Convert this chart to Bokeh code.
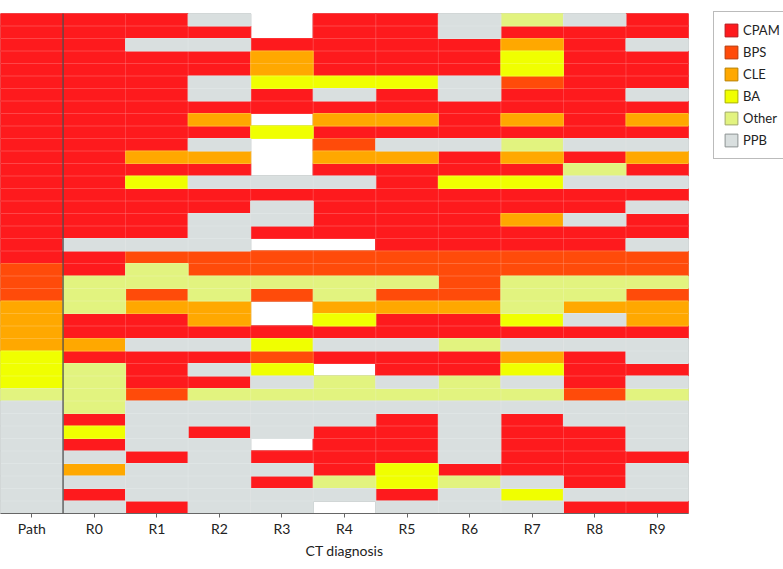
from bokeh.plotting import figure
from bokeh.models import ColumnDataSource, Range1d, Legend, LegendItem, Span, FixedTicker
from bokeh.embed import file_html
from bokeh.resources import INLINE

# ---- data ----
columns = ["Path", "R0", "R1", "R2", "R3", "R4", "R5", "R6", "R7", "R8", "R9"]
categories = ["CPAM", "BPS", "CLE", "BA", "Other", "PPB"]
codes = ["C", "B", "L", "A", "O", "P"]          # "-" = no diagnosis
cat_colors = ["#fe1a1d", "#ff4b0a", "#ffa800", "#f0ff00", "#e2f37f", "#d9dfdf"]
swatch_lines = ["#b8161b", "#b83a0a", "#b88000", "#a8b000", "#a0a868", "#8c9292"]

rows = [
    "CCCP-CCPOPC",
    "CCCC-CCPCCC",
    "CCPPCCCCLCP",
    "CCCCLCCCACC",
    "CCCCLCCCACC",
    "CCCPAAAPBCC",
    "CCCPCPCPCCP",
    "CCCCCCCCCCC",
    "CCCL-LLCLCL",
    "CCCCACCCCCC",
    "CCCP-BPPOPP",
    "CCLL-LLCLCL",
    "CCCC-CCCCOC",
    "CCAPPPCAAPP",
    "CCCCCCCCCCC",
    "CCCCPCCCCCP",
    "CCCPPCCCLPC",
    "CCCPCCCCCCC",
    "CPPP--CCCCP",
    "CCBBBBBBBBB",
    "BCOBBBBBBBB",
    "BOOOOOOBOOO",
    "BOBOBOBBOOB",
    "LOLL-LLLOLL",
    "LCCL-ACCAPL",
    "LCCCCCCCCCC",
    "LLPPAPPOPPP",
    "ACCCBCCCLCP",
    "AOCPA-CCACC",
    "AOCCPOPOPCP",
    "OOBOOOOOOBO",
    "POPPPPPPPPP",
    "PCPPPPCPCPP",
    "PAPCPCCPCCP",
    "PCPP-CCPCCP",
    "PPCPCCCPCCC",
    "PLPPPCACCCP",
    "PPPPCOAOPCP",
    "PCPPPPCPAPP",
    "PPCPP-PPPCC",
]

FONT = "Lato"
n_rows = len(rows)

p = figure(frame_width=688, frame_height=500,
           x_range=Range1d(-0.5, len(columns) - 0.5),
           y_range=Range1d(n_rows + 0.5, 0.5),
           y_axis_location=None,
           output_backend="svg", toolbar_location=None,
           min_border_left=0, min_border_top=13, min_border_right=95, min_border_bottom=0)
p.grid.visible = False
p.outline_line_color = None
p.background_fill_color = "white"

sources = []
for code in codes:
    xs, ys = [], []
    for r, row in enumerate(rows):
        for c, ch in enumerate(row):
            if ch == code:
                xs.append(c)
                ys.append(r + 1)
    sources.append(ColumnDataSource(dict(x=xs, y=ys)))

# legend-style layer (underneath, covered by the cell layer drawn after it)
legend_items = []
for cat, col, lc, src in zip(categories, cat_colors, swatch_lines, sources):
    leg = p.rect(x="x", y="y", width=1, height=1, source=src,
                 fill_color=col, line_color=lc, line_width=1)
    legend_items.append(LegendItem(label=cat, renderers=[leg]))

# cell layer
for col, src in zip(cat_colors, sources):
    p.rect(x="x", y="y", width=1, height=1, source=src,
           fill_color=col, line_color=col, line_width=1)
# faint separators between cells
for src in sources:
    p.rect(x="x", y="y", width=1, height=1, source=src,
           fill_color=None, line_color="white", line_alpha=0.10, line_width=1)

p.add_layout(Span(location=0.5, dimension="height", line_color="#444444", line_width=1.2))

ax = p.xaxis[0]
ax.ticker = FixedTicker(ticks=list(range(len(columns))))
ax.major_label_overrides = {i: name for i, name in enumerate(columns)}
ax.axis_line_color = "#666666"
ax.major_tick_line_color = "#666666"
ax.major_tick_in = 0
ax.major_tick_out = 4
ax.minor_tick_line_color = None
ax.major_label_text_font = FONT
ax.major_label_text_font_size = "14px"
ax.major_label_text_color = "#222222"
ax.major_label_standoff = 2
ax.axis_label = "CT diagnosis"
ax.axis_label_text_font = FONT
ax.axis_label_text_font_size = "14px"
ax.axis_label_text_font_style = "normal"
ax.axis_label_text_color = "#222222"
ax.axis_label_standoff = 2

legend = Legend(items=legend_items, location=(25, 500 - 146),
                glyph_width=16, glyph_height=16, label_height=18, label_width=20,
                spacing=4, padding=9, margin=12, label_standoff=4,
                label_text_font=FONT, label_text_font_size="13px",
                label_text_color="#222222",
                border_line_color="#777777", border_line_width=1,
                background_fill_color="white", background_fill_alpha=1)
p.add_layout(legend, "right")

open("out.html", "w").write(file_html(p, INLINE))
